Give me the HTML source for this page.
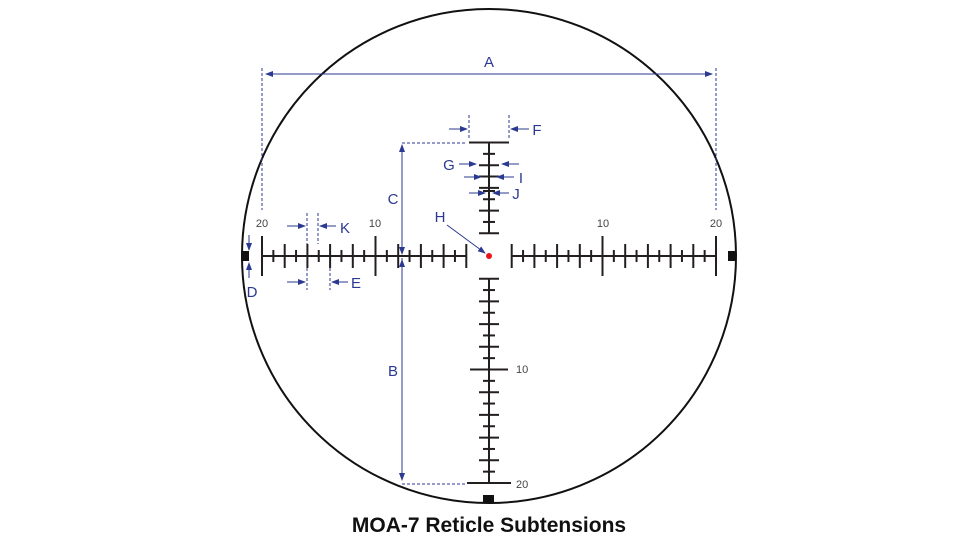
<!DOCTYPE html>
<html><head><meta charset="utf-8"><style>
html,body{margin:0;padding:0;background:#fff;}
svg{display:block;}
</style></head><body>
<svg id="s" width="978" height="550" viewBox="0 0 978 550" xmlns="http://www.w3.org/2000/svg" font-family="Liberation Sans, sans-serif">
<defs>
<marker id="ar" markerWidth="8" markerHeight="6" refX="7" refY="3" orient="auto" markerUnits="userSpaceOnUse"><path d="M0,0 L8,3 L0,6 Z" fill="#2b3990"/></marker>
</defs>
<circle cx="489" cy="256" r="247" fill="none" stroke="#111" stroke-width="2"/>
<rect x="241" y="251" width="8" height="10" fill="#111"/>
<rect x="728" y="251" width="8" height="10" fill="#111"/>
<rect x="483" y="495" width="11" height="8" fill="#111"/>
<g id="ret" stroke="#231f20" stroke-width="2"></g>
<circle cx="489" cy="256" r="3" fill="#e8141b"/>
<g fill="#444" font-size="11">
<text x="262" y="227" text-anchor="middle">20</text>
<text x="375" y="227" text-anchor="middle">10</text>
<text x="603" y="227" text-anchor="middle">10</text>
<text x="716" y="227" text-anchor="middle">20</text>
<text x="516" y="373">10</text>
<text x="516" y="488">20</text>
</g>
<g stroke="#2b3990" stroke-width="1" fill="none">
<line x1="262" y1="68" x2="262" y2="210" stroke-dasharray="3,2"/>
<line x1="716" y1="68" x2="716" y2="210" stroke-dasharray="3,2"/>
<line x1="266" y1="74" x2="712" y2="74" marker-end="url(#ar)"/>
<line x1="712" y1="74" x2="266" y2="74" marker-end="url(#ar)"/>
<line x1="402" y1="143" x2="465" y2="143" stroke-dasharray="3,2"/>
<line x1="402" y1="484" x2="465" y2="484" stroke-dasharray="3,2"/>
<line x1="402" y1="147" x2="402" y2="254" marker-end="url(#ar)"/>
<line x1="402" y1="150" x2="402" y2="145" marker-end="url(#ar)"/>
<line x1="402" y1="258" x2="402" y2="480" marker-end="url(#ar)"/>
<line x1="402" y1="270" x2="402" y2="260" marker-end="url(#ar)"/>
<line x1="249" y1="235" x2="249" y2="250" marker-end="url(#ar)"/>
<line x1="249" y1="278" x2="249" y2="263" marker-end="url(#ar)"/>
<line x1="307" y1="213" x2="307" y2="244" stroke-dasharray="3,2"/>
<line x1="318" y1="213" x2="318" y2="244" stroke-dasharray="3,2"/>
<line x1="287" y1="226" x2="305" y2="226" marker-end="url(#ar)"/>
<line x1="336" y1="226" x2="320" y2="226" marker-end="url(#ar)"/>
<line x1="307" y1="268" x2="307" y2="290" stroke-dasharray="3,2"/>
<line x1="330" y1="268" x2="330" y2="290" stroke-dasharray="3,2"/>
<line x1="287" y1="282" x2="305" y2="282" marker-end="url(#ar)"/>
<line x1="348" y1="282" x2="332" y2="282" marker-end="url(#ar)"/>
<line x1="469" y1="115" x2="469" y2="140" stroke-dasharray="3,2"/>
<line x1="509" y1="115" x2="509" y2="140" stroke-dasharray="3,2"/>
<line x1="449" y1="129" x2="467" y2="129" marker-end="url(#ar)"/>
<line x1="529" y1="129" x2="511" y2="129" marker-end="url(#ar)"/>
<line x1="459" y1="164" x2="476" y2="164" marker-end="url(#ar)"/>
<line x1="519" y1="164" x2="502" y2="164" marker-end="url(#ar)"/>
<line x1="464" y1="177" x2="481" y2="177" marker-end="url(#ar)"/>
<line x1="514" y1="177" x2="497" y2="177" marker-end="url(#ar)"/>
<line x1="469" y1="193" x2="485" y2="193" marker-end="url(#ar)"/>
<line x1="509" y1="193" x2="493" y2="193" marker-end="url(#ar)"/>
<line x1="447" y1="225" x2="485" y2="253" marker-end="url(#ar)"/>
</g>
<g fill="#2b3990" font-size="15">
<text x="489" y="67" text-anchor="middle">A</text>
<text x="393" y="204" text-anchor="middle">C</text>
<text x="393" y="376" text-anchor="middle">B</text>
<text x="252" y="297" text-anchor="middle">D</text>
<text x="345" y="233" text-anchor="middle">K</text>
<text x="356" y="288" text-anchor="middle">E</text>
<text x="537" y="135" text-anchor="middle">F</text>
<text x="449" y="170" text-anchor="middle">G</text>
<text x="521" y="183" text-anchor="middle">I</text>
<text x="516" y="199" text-anchor="middle">J</text>
<text x="440" y="222" text-anchor="middle">H</text>
</g>
<text x="489" y="532" text-anchor="middle" font-size="21" font-weight="bold" fill="#111">MOA-7 Reticle Subtensions</text>
</svg>
<script>
var g=document.getElementById('ret'),u=11.35,cx=489,cy=256,h='';
function L(a,b,c,d){h+='<line x1="'+a+'" y1="'+b+'" x2="'+c+'" y2="'+d+'"/>';}
L(262,256,467,256);L(511,256,716,256);
for(var m=2;m<=20;m++){var hl=(m%10==0)?20:(m%2==0?12:6);
 var xl=cx-m*u,xr=cx+m*u;L(xl,cy-hl,xl,cy+hl);L(xr,cy-hl,xr,cy+hl);}
L(489,143,489,234);L(489,279,489,484);
for(var m=2;m<=20;m++){var y=cy+m*u,w=(m==20)?22:(m==10?19:(m%2==0?10:6));L(cx-w,y,cx+w,y);}
for(var m=2;m<=10;m++){var y=cy-m*u,w=(m==10)?20:(m%2==0?10:6);if(m==7||m==6)w=10;L(cx-w,y,cx+w,y);}
L(cx-6,191,cx+6,191);
g.innerHTML=h;
</script>
</body></html>
